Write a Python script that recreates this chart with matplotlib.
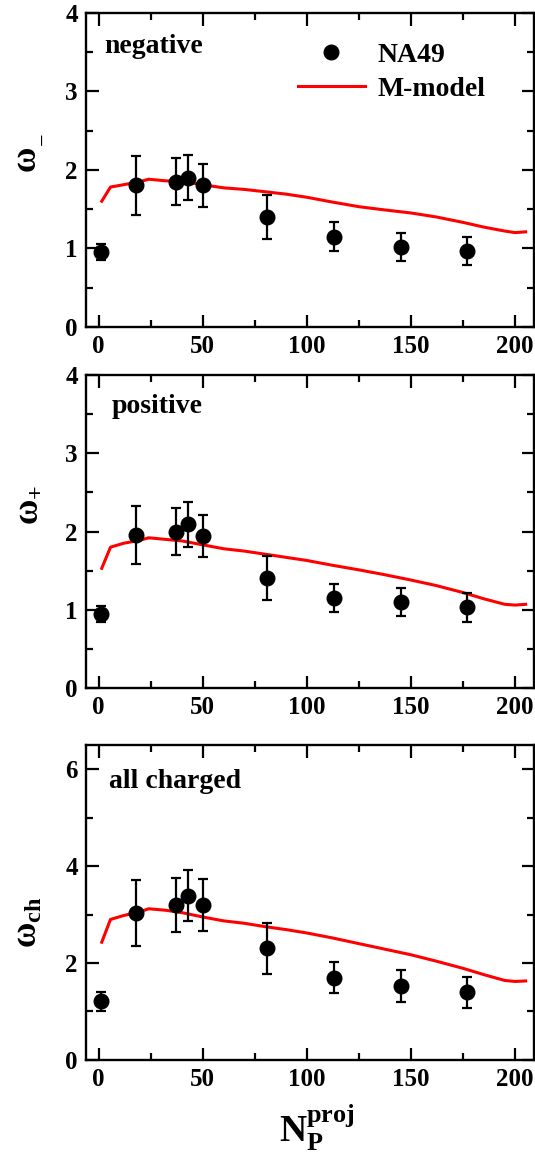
import numpy as np
import matplotlib
matplotlib.use("Agg")
import matplotlib.pyplot as plt
from matplotlib.ticker import MultipleLocator
from matplotlib.lines import Line2D

plt.rcParams['font.family'] = ['Liberation Serif', 'DejaVu Serif']
plt.rcParams['font.weight'] = 'bold'
plt.rcParams['mathtext.fontset'] = 'custom'
plt.rcParams['mathtext.rm'] = 'Liberation Serif:bold'
plt.rcParams['mathtext.it'] = 'Liberation Serif:bold'
plt.rcParams['mathtext.bf'] = 'Liberation Serif:bold'

# NA49 data
n_proj = [1, 18, 37, 43, 50, 81, 113, 145, 177]
w_neg = [0.95, 1.80, 1.85, 1.90, 1.80, 1.40, 1.15, 1.02, 0.97]
e_neg = [0.10, 0.37, 0.30, 0.29, 0.27, 0.28, 0.18, 0.18, 0.18]
w_pos = [0.95, 1.95, 2.00, 2.09, 1.94, 1.41, 1.15, 1.10, 1.03]
e_pos = [0.10, 0.37, 0.30, 0.29, 0.27, 0.28, 0.18, 0.18, 0.18]
w_ch = [1.21, 3.04, 3.20, 3.39, 3.20, 2.30, 1.70, 1.53, 1.40]
e_ch = [0.20, 0.68, 0.55, 0.53, 0.53, 0.52, 0.32, 0.33, 0.32]

# M-model curves
m_x = [1.5, 5.7, 12, 20, 24, 32, 40, 50, 60, 70, 80, 90, 100, 112, 125, 137, 150, 162, 175, 185, 195, 200, 205]
m_neg = [1.60, 1.78, 1.81, 1.85, 1.88, 1.86, 1.85, 1.81, 1.77, 1.75, 1.72, 1.69, 1.65, 1.59, 1.53, 1.49, 1.45, 1.40, 1.33, 1.27, 1.22, 1.20, 1.21]
m_pos = [1.53, 1.80, 1.85, 1.89, 1.92, 1.90, 1.88, 1.83, 1.78, 1.75, 1.71, 1.67, 1.63, 1.57, 1.51, 1.45, 1.38, 1.31, 1.22, 1.14, 1.07, 1.06, 1.07]
m_ch = [2.43, 2.90, 2.98, 3.06, 3.12, 3.09, 3.04, 2.95, 2.87, 2.82, 2.75, 2.69, 2.62, 2.52, 2.40, 2.29, 2.17, 2.04, 1.89, 1.76, 1.64, 1.62, 1.63]

panels = [
    (w_neg, e_neg, m_neg, 'negative', None, (0, 4), 1, 0.5,
     [0.161, 0.717, 0.837, 0.272], (0.040, 0.873), None),
    (w_pos, e_pos, m_pos, 'positive', r'$\omega_{+}$', (0, 4), 1, 0.5,
     [0.161, 0.4043, 0.837, 0.271], (0.058, 0.878), (-0.129, 0.585)),
    (w_ch, e_ch, m_ch, 'all charged', r'$\omega_{\mathrm{ch}}$', (0, 6.5), 2, 1,
     [0.161, 0.0823, 0.837, 0.2727], (0.051, 0.863), (-0.129, 0.438)),
]

fig = plt.figure(figsize=(5.35, 11.55), dpi=100)
for i, (w, e, m, name, ylab, ylim, maj, mnr, pos, tpos, lpos) in enumerate(panels):
    ax = fig.add_axes(pos)
    ax.plot(m_x, m, color='#ff0000', lw=2.2, zorder=2)
    ax.errorbar(n_proj, w, yerr=e, fmt='o', color='black', ms=10.5, elinewidth=1.6,
                capsize=3.6, capthick=1.6, zorder=3)
    ax.set_xlim(-6, 209)
    ax.set_ylim(*ylim)
    ax.xaxis.set_major_locator(MultipleLocator(50))
    ax.xaxis.set_minor_locator(MultipleLocator(25))
    ax.yaxis.set_major_locator(MultipleLocator(maj))
    ax.yaxis.set_minor_locator(MultipleLocator(mnr))
    ax.tick_params(which='both', direction='in', top=True, right=True, width=1.6)
    ax.tick_params(which='major', length=9, labelsize=18, pad=6)
    ax.tick_params(which='minor', length=5)
    for s in ax.spines.values():
        s.set_linewidth(1.7)
    for lab in ax.get_xticklabels() + ax.get_yticklabels():
        lab.set_fontweight('bold')
    ax.text(tpos[0], tpos[1], name, transform=ax.transAxes, fontsize=20,
            fontweight='bold', va='baseline')
    if ylab is not None:
        ax.text(lpos[0], lpos[1], ylab, transform=ax.transAxes, fontsize=25, rotation=90,
                ha='center', va='center')
    else:
        # omega with a lowered minus subscript
        ax.text(-0.134, 0.537, 'ω', transform=ax.transAxes, fontsize=25, rotation=90,
                ha='center', va='center')
        ax.text(-0.094, 0.599, '−', transform=ax.transAxes, fontsize=16, rotation=90,
                ha='center', va='center', fontweight='normal')
    if i == 0:
        h = [Line2D([], [], ls='none', marker='o', ms=10.5, color='black'),
             Line2D([], [], color='#ff0000', lw=2.2)]
        ax.legend(h, ['NA49', 'M-model'], loc='upper left', bbox_to_anchor=(0.473, 0.905),
                  frameon=False, handlelength=2.4, handletextpad=0.47,
                  borderpad=0, borderaxespad=0, labelspacing=0.3, numpoints=1,
                  prop={'weight': 'bold', 'size': 20})
    if i == 2:
        ax.text(0.516, -0.133, r'$\mathrm{N}_{\mathrm{P}}^{\mathrm{proj}}$', fontsize=27,
                transform=ax.transAxes, ha='center', va='top')

fig.savefig('out.png', dpi=100)
